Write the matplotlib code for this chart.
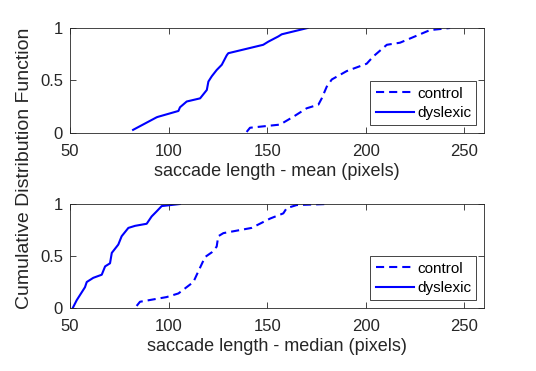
import matplotlib
matplotlib.use('Agg')
import matplotlib.pyplot as plt
import numpy as np

plt.rcParams['font.family'] = ['Liberation Sans', 'DejaVu Sans']

# saccade length - mean (pixels)
mean_dys_x = [82, 94, 94.8, 105, 105.8, 109.2, 116, 119.4, 120.2, 121.9, 124.4,
              127, 129.5, 130.3, 148, 150.6, 155.7, 157.4, 170.5]
mean_dys_y = [0.03, 0.15, 0.155, 0.21, 0.245, 0.30, 0.33, 0.41, 0.49, 0.54, 0.60,
              0.65, 0.74, 0.76, 0.84, 0.87, 0.92, 0.94, 1.0]
mean_ctl_x = [139.6, 141.3, 156.5, 163.3, 170, 176, 177.7, 180.2, 182.8, 190.4,
              200.5, 203.9, 210.7, 217.4, 225, 232.6, 242.8]
mean_ctl_y = [0.01, 0.05, 0.08, 0.155, 0.235, 0.27, 0.33, 0.44, 0.51, 0.59,
              0.66, 0.73, 0.84, 0.86, 0.92, 0.98, 1.0]

# saccade length - median (pixels)
med_dys_x = [51.4, 53.4, 57.6, 58.5, 61.8, 66.1, 67.8, 70.3, 71.2, 74.5, 76.2,
             79.6, 83, 88.9, 91.4, 94, 96.5, 105.8]
med_dys_y = [0.0, 0.075, 0.2, 0.25, 0.29, 0.32, 0.40, 0.43, 0.53, 0.61, 0.69,
             0.77, 0.79, 0.81, 0.88, 0.93, 0.98, 1.0]
med_ctl_x = [83.8, 85.5, 99, 105, 112.6, 114.3, 118.5, 121.9, 124.4, 125.2, 127.8,
             142.1, 151.5, 158.2, 159.9, 165, 181]
med_ctl_y = [0.02, 0.06, 0.105, 0.14, 0.25, 0.32, 0.49, 0.535, 0.59, 0.69, 0.72,
             0.77, 0.86, 0.91, 0.96, 0.99, 1.0]

panels = [
    (mean_ctl_x, mean_ctl_y, mean_dys_x, mean_dys_y, 'saccade length - mean (pixels)'),
    (med_ctl_x, med_ctl_y, med_dys_x, med_dys_y, 'saccade length - median (pixels)'),
]

fig = plt.figure(figsize=(5.36, 3.71), dpi=100)
W, H = 536, 371
boxes = [(70, 28, 484, 133), (70, 204, 484, 308)]
fs = 12
gray = '#262626'

for (cx, cy, dx, dy, xlab), (l, t, r, b) in zip(panels, boxes):
    ax = fig.add_axes([l / W, 1 - b / H, (r - l) / W, (b - t) / H])
    ax.plot(cx, cy, '--', dashes=(3.9, 2.4), color='#0000ff', lw=1.5, label='control')
    ax.plot(dx, dy, '-', color='#0000ff', lw=1.5, label='dyslexic')
    ax.set_xlim(50, 260)
    ax.set_ylim(0, 1)
    ax.set_xticks([50, 100, 150, 200, 250])
    ax.set_yticks([0, 0.5, 1])
    ax.set_yticklabels(['0', '0.5', '1'])
    ax.tick_params(direction='in', top=True, right=True, labelsize=fs,
                   colors=gray, length=4, width=0.6)
    ax.tick_params(axis='x', pad=8)
    ax.tick_params(axis='y', pad=5)
    for s in ax.spines.values():
        s.set_color(gray)
        s.set_linewidth(0.6)
    ax.set_xlabel(xlab, fontsize=13, color=gray, labelpad=3)
    leg = ax.legend(loc='lower right', fontsize=11, handlelength=2.5,
                    fancybox=False, framealpha=1, borderpad=0.35,
                    labelspacing=0.35, handletextpad=0.2, borderaxespad=0.5)
    leg.get_frame().set_edgecolor(gray)
    leg.get_frame().set_linewidth(0.6)
    for t in leg.get_texts():
        t.set_color('black')

fig.text(25 / W, 1 - 168 / H, 'Cumulative Distribution Function', rotation=90,
         ha='center', va='center', fontsize=14, color=gray)

fig.savefig('out.png', dpi=100)
